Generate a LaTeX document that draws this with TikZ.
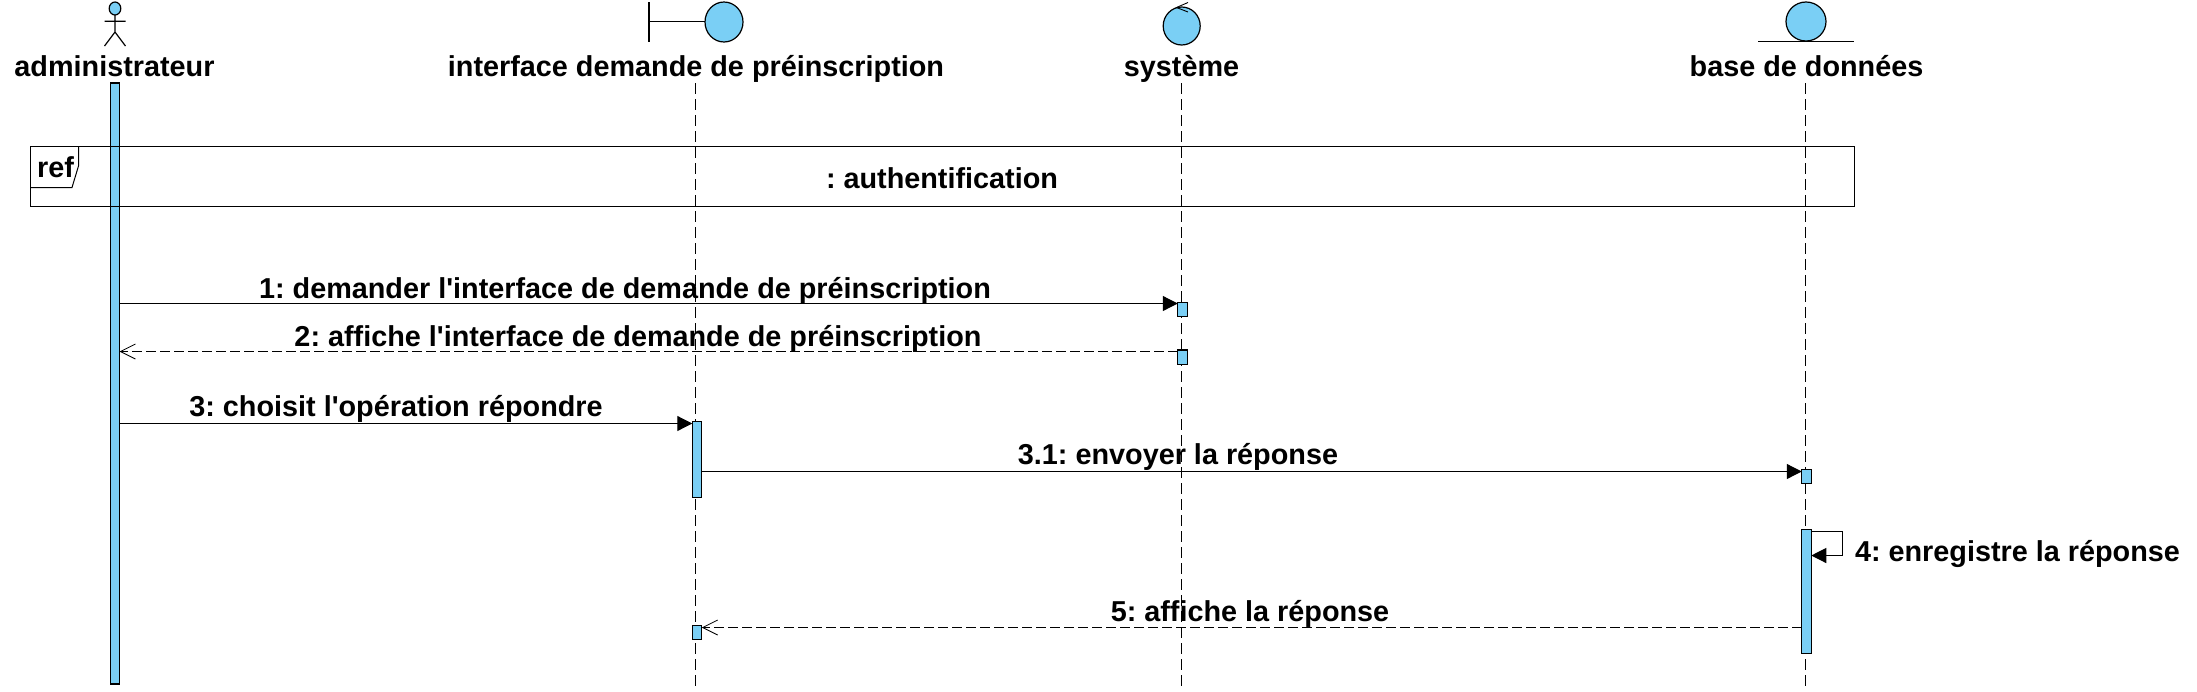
\documentclass[tikz,border=0pt]{standalone}
\usepackage{fontspec}
\setmainfont{Liberation Sans}[Ligatures=TeXOff]
\usetikzlibrary{arrows.meta}
\definecolor{umlblue}{HTML}{7ACFF5}
\frenchspacing
\tikzset{
  x=1pt,y=-1pt,
  base/.style={line width=1.2pt,draw=black},
  txt/.style={font=\fontsize{28.8}{32}\selectfont\bfseries,inner sep=0pt,outer sep=0pt,text=black,anchor=base},
  msgtxt/.style={txt},
  lifeline/.style={line width=1.2pt,dash pattern=on 11pt off 5pt},
  bar/.style={base,fill=umlblue,inner sep=0pt,outer sep=0pt,minimum width=#1,rectangle},
  bar/.default=9.5pt,
  syncmsg/.style={line width=1.2pt,-{Triangle[length=15pt,width=15pt]}},
  retmsg/.style={line width=1.2pt,dash pattern=on 9.5pt off 4.5pt,-{Straight Barb[length=15pt,width=15pt,line width=.8pt]}},
  selfmsg/.style={line width=1.2pt,-{Triangle[length=15pt,width=15pt]}},
  headshape/.style={base,fill=umlblue},
}
\begin{document}
\begin{tikzpicture}
\useasboundingbox (0,0) rectangle (2197,691);
% lifeline heads
\node[txt] (adminL) at (114.5,76) {administrateur};
\node[txt] (ifaceL) at (696,76) {interface demande de préinscription};
\node[txt] (sysL) at (1181.5,76) {système};
\node[txt] (dbL) at (1806.5,76) {base de données};
% lifeline anchors
\coordinate (ifaceT) at (695.5,83);
\coordinate (ifaceB) at (695.5,686);
\coordinate (sysT) at (1181.5,83);
\coordinate (sysB) at (1181.5,686);
\coordinate (dbT) at (1805.5,83);
\coordinate (dbB) at (1805.5,686);
\draw[lifeline] (ifaceT) -- (ifaceB);
\draw[lifeline] (sysT) -- (sysB);
\draw[lifeline] (dbT) -- (dbB);
% activations
\node[bar=9pt,minimum height=601pt] (barA) at (115,383.5) {};
\node[bar=9.5pt,minimum height=14.4pt] (bar1) at (1182.5,309.5) {};
\node[bar=9.5pt,minimum height=14.7pt] (bar2) at (1182.5,357.3) {};
\node[bar=9.5pt,minimum height=76.4pt] (bar3) at (697,459.5) {};
\node[bar=9.5pt,minimum height=14pt] (bar31) at (1806.5,476.3) {};
\node[bar=9.5pt,minimum height=124pt] (bar4) at (1806.5,591.3) {};
\node[bar=9.5pt,minimum height=14pt] (bar5) at (697,632.3) {};
% actor
\draw[headshape] (115,8.5) ellipse (5.8pt and 6.5pt);
\draw[base] (115,15) -- (115,32) (104.5,21.3) -- (125.5,21.3) (104.5,46) -- (115,32) -- (125.5,46);
% boundary
\draw[base] (649,2) -- (649,42) (649,21.5) -- (705,21.5);
\draw[headshape] (724,22) ellipse (19pt and 20pt);
% control
\draw[headshape] (1181.7,26) ellipse (18.5pt and 19pt);
\draw[line width=.9pt] (1188,2.5) -- (1176.5,7.5) -- (1188,12);
% entity
\draw[headshape] (1806,21.5) ellipse (20pt and 19.5pt);
\draw[base] (1758,41.5) -- (1854,41.5);
% ref frame
\node[draw=black,line width=1pt,inner sep=0pt,outer sep=0pt,minimum width=1824pt,minimum height=60pt] (refbox) at (942.5,176.5) {};
\draw[line width=1pt] (78.5,146.5) -- (78.5,166) -- (72,187.5) -- (30.5,187.5);
\node[txt] (refL) at (55.5,177) {ref};
\node[txt] (authL) at (942,188) {: authentification};
% message rows
\coordinate (m1) at (0,303.5);
\coordinate (m2) at (0,351.5);
\coordinate (m3) at (0,423.5);
\coordinate (m31) at (0,471.5);
\coordinate (m4a) at (0,531.5);
\coordinate (m4b) at (0,555.5);
\coordinate (m5) at (0,627.5);
\draw[syncmsg] (barA.east |- m1) -- (bar1.west |- m1);
\draw[retmsg] (bar2.west |- m2) -- (barA.east |- m2);
\draw[syncmsg] (barA.east |- m3) -- (bar3.west |- m3);
\draw[syncmsg] (bar3.east |- m31) -- (bar31.west |- m31);
\coordinate (s1) at (1842.5,531.5);
\coordinate (s2) at (1842.5,555.5);
\draw[selfmsg] (bar4.east |- m4a) -- (s1) -- (s2) -- (bar4.east |- m4b);
\draw[retmsg] (bar4.west |- m5) -- (bar5.east |- m5);
% message labels
\node[msgtxt] (t1) at (625,298) {1: demander l'interface de demande de préinscription};
\node[msgtxt] (t2) at (638,346) {2: affiche l'interface de demande de préinscription};
\node[msgtxt] (t3) at (396,416) {3: choisit l'opération répondre};
\node[msgtxt] (t31) at (1178,464) {3.1: envoyer la réponse};
\node[msgtxt,anchor=base west] (t4) at (1855,561) {4: enregistre la réponse};
\node[msgtxt] (t5) at (1250,621) {5: affiche la réponse};
\end{tikzpicture}
\end{document}
